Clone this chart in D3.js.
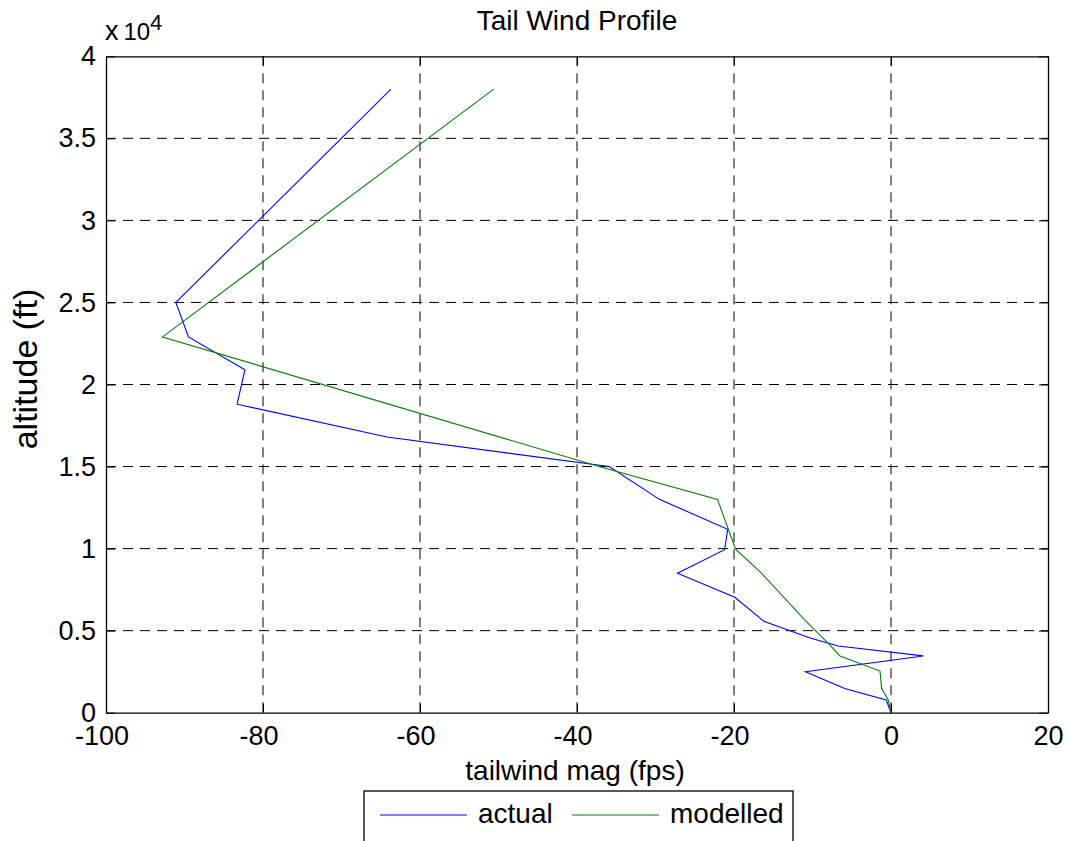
<!DOCTYPE html>
<html>
<head>
<meta charset="utf-8">
<script src="https://cdn.jsdelivr.net/npm/d3@7"></script>
<style>
body { margin: 0; background: #fff; }
text { font-family: "Liberation Sans", Arial, sans-serif; fill: #000; }
</style>
</head>
<body>
<div id="app"></div>
<script>
// values: altitude (ft) and tailwind (fps)
const actualAlt  = [0, 770, 1470, 2500, 3460, 4060, 4550, 5570, 7030, 8500, 9930, 11180, 13000, 15000, 16800, 18800, 20900, 22900, 25000, 38000];
const actualWind = [0, -0.6, -5.9, -10.9, 4.1, -6.7, -10.3, -16.2, -19.9, -27.2, -21.2, -20.8, -29.5, -35.9, -64.2, -83.3, -82.3, -89.5, -91.1, -63.7];

const modelAlt  = [0, 770, 1490, 2540, 3460, 4130, 5650, 8500, 9960, 13000, 15000, 22900, 38000];
const modelWind = [0, -0.35, -1.2, -1.4, -6.5, -7.8, -11.0, -16.5, -19.8, -22.1, -37.2, -92.8, -50.6];

const xTicks = [-100, -80, -60, -40, -20, 0, 20];
const yTicks = [0, 5000, 10000, 15000, 20000, 25000, 30000, 35000, 40000];
const yTickLabels = ["0", "0.5", "1", "1.5", "2", "2.5", "3", "3.5", "4"];

const seriesNames = ["actual", "modelled"];
const seriesColors = ["#0000ff", "#008000"];

// sizing
const totalW = 1069, totalH = 841;
const margin = {left: 106, right: 21, top: 56.3, bottom: 128.3};
const width = totalW - margin.left - margin.right;
const height = totalH - margin.top - margin.bottom;
const tickFont = 27;
const labelFont = 28;

const root = d3.select("#app")
  .append("svg")
    .attr("width", totalW)
    .attr("height", totalH);

const svg = root.append("g")
    .attr("transform", "translate(" + margin.left + "," + margin.top + ")");

const x = d3.scaleLinear().domain([-100, 20]).range([0, width]);
const y = d3.scaleLinear().domain([0, 40000]).range([height, 0]);

// dashed grid
svg.append("g")
  .selectAll("line")
  .data(xTicks.slice(1, -1))
  .enter().append("line")
    .attr("x1", d => x(d)).attr("x2", d => x(d))
    .attr("y1", 0).attr("y2", height)
    .attr("stroke", "#000").attr("stroke-width", 1)
    .attr("stroke-dasharray", "10,7");

svg.append("g")
  .selectAll("line")
  .data(yTicks.slice(1, -1))
  .enter().append("line")
    .attr("y1", d => y(d)).attr("y2", d => y(d))
    .attr("x1", 0).attr("x2", width)
    .attr("stroke", "#000").attr("stroke-width", 1)
    .attr("stroke-dasharray", "10,7");

// lines
const series = [
  {name: seriesNames[0], color: seriesColors[0], pts: actualAlt.map((a, i) => [actualWind[i], a])},
  {name: seriesNames[1], color: seriesColors[1], pts: modelAlt.map((a, i) => [modelWind[i], a])}
];

const line = d3.line().x(d => x(d[0])).y(d => y(d[1]));

svg.append("g")
  .selectAll("path")
  .data(series)
  .enter().append("path")
    .attr("d", d => line(d.pts))
    .attr("fill", "none")
    .attr("stroke", d => d.color)
    .attr("stroke-width", 1.1);

// axes, ticks point inwards like matlab
function styleAxis(g) {
  g.selectAll(".domain").attr("stroke", "#000").attr("stroke-width", 1.3);
  g.selectAll(".tick line").attr("stroke", "#000").attr("stroke-width", 1);
  g.selectAll("text")
    .style("font-family", '"Liberation Sans", Arial, sans-serif')
    .style("font-size", tickFont + "px")
    .attr("fill", "#000");
}

const xAxis = svg.append("g")
    .attr("transform", "translate(0," + height + ")")
    .call(d3.axisBottom(x).tickValues(xTicks).tickSize(-9).tickSizeOuter(0).tickPadding(13)
      .tickFormat(d => String(d)))
    .call(styleAxis);
// matlab centers the digits, the minus hangs to the left
xAxis.selectAll(".tick text").attr("dx", d => d < 0 ? "-0.165em" : 0);

svg.append("g")
    .call(d3.axisTop(x).tickValues(xTicks).tickSize(-9).tickSizeOuter(0).tickFormat(""))
    .call(styleAxis);

svg.append("g")
    .call(d3.axisLeft(y).tickValues(yTicks).tickSize(-9).tickSizeOuter(0).tickPadding(10)
      .tickFormat((d, i) => yTickLabels[i]))
    .call(styleAxis);

svg.append("g")
    .attr("transform", "translate(" + width + ",0)")
    .call(d3.axisRight(y).tickValues(yTicks).tickSize(-9).tickSizeOuter(0).tickFormat(""))
    .call(styleAxis);

// title and labels
root.append("text")
    .attr("x", 577).attr("y", 29.5)
    .attr("text-anchor", "middle")
    .style("font-size", labelFont + "px")
    .text("Tail Wind Profile");

root.append("text")
    .attr("x", 575).attr("y", 780)
    .attr("text-anchor", "middle")
    .style("font-size", labelFont + "px")
    .text("tailwind mag (fps)");

root.append("text")
    .attr("transform", "translate(37,369) rotate(-90)")
    .attr("text-anchor", "middle")
    .style("font-size", "34px")
    .text("altitude (ft)");

// exponent label
root.append("text")
    .attr("x", 105).attr("y", 40)
    .style("font-size", tickFont + "px")
    .text("x");
root.append("text")
    .attr("x", 123.5).attr("y", 40)
    .style("font-size", "24px")
    .text("10");
root.append("text")
    .attr("x", 150).attr("y", 29.5)
    .style("font-size", "22px")
    .text("4");

// legend
const legend = root.append("g").attr("transform", "translate(364,791)");
legend.append("rect")
    .attr("x", 0).attr("y", 0)
    .attr("width", 429).attr("height", 70)
    .attr("fill", "#fff").attr("stroke", "#000").attr("stroke-width", 1.3);

const legendX = [16, 208];
series.forEach((s, i) => {
  legend.append("line")
      .attr("x1", legendX[i]).attr("x2", legendX[i] + 87)
      .attr("y1", 24).attr("y2", 24)
      .attr("stroke", s.color).attr("stroke-width", 1.1);
  legend.append("text")
      .attr("x", legendX[i] + 98).attr("y", 32)
      .style("font-size", labelFont + "px")
      .text(s.name);
});
</script>
</body>
</html>
